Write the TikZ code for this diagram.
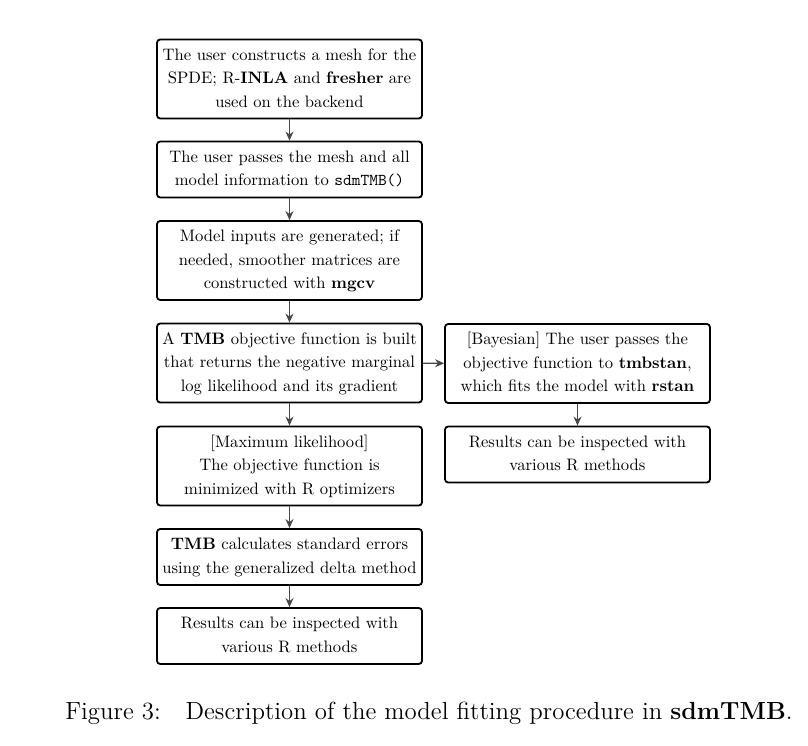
\documentclass[tikz,border=0pt]{standalone}
\usetikzlibrary{arrows.meta}
\newcommand\bxt[1]{\scalebox{0.83}{\renewcommand\arraystretch{1.18}\begin{tabular}{@{}c@{}}#1\end{tabular}}}
\begin{document}
\begin{tikzpicture}[x=1pt,y=1pt,
  stepbox/.style={draw=black,line width=0.9pt,rounded corners=1.6pt,
    minimum width=132.5pt,inner xsep=1pt,inner ysep=1pt,align=center,
    minimum height=28pt,font=\normalsize},
  tall/.style={minimum height=39.5pt},
  conn/.style={draw=black!72,line width=0.7pt,-{Stealth[length=4.5pt,width=4pt]}}]
\useasboundingbox (0,0) rectangle (404,372.5);
\node[stepbox,tall] (b1) at (144.75,333) {\bxt{The user constructs a mesh for the\\ SPDE; R-\textbf{INLA} and \textbf{fresher} are\\ used on the backend}};
\node[stepbox] (b2) at (144.75,287.75) {\bxt{The user passes the mesh and all\\ model information to \texttt{sdmTMB()}}};
\node[stepbox,tall] (b3) at (144.75,242.25) {\bxt{Model inputs are generated; if\\ needed, smoother matrices are\\ constructed with \textbf{mgcv}}};
\node[stepbox,tall] (b4) at (144.75,191) {\bxt{A \textbf{TMB} objective function is built\\ that returns the negative marginal\\ log likelihood and its gradient}};
\node[stepbox,tall] (b5) at (144.75,139.5) {\bxt{[Maximum likelihood]\\ The objective function is\\ minimized with R optimizers}};
\node[stepbox] (b6) at (144.75,94) {\bxt{\textbf{TMB} calculates standard errors\\ using the generalized delta method}};
\node[stepbox] (b7) at (144.75,54.5) {\bxt{Results can be inspected with\\ various R methods}};
\node[stepbox,tall] (r1) at (288.75,190.75) {\bxt{[Bayesian] The user passes the\\ objective function to \textbf{tmbstan},\\ which fits the model with \textbf{rstan}}};
\node[stepbox] (r2) at (288.75,145.25) {\bxt{Results can be inspected with\\ various R methods}};
\draw[conn] (b1) -- (b2);
\draw[conn] (b2) -- (b3);
\draw[conn] (b3) -- (b4);
\draw[conn] (b4) -- (b5);
\draw[conn] (b5) -- (b6);
\draw[conn] (b6) -- (b7);
\draw[conn] (b4) -- (r1);
\draw[conn] (r1) -- (r2);
\node[font=\fontsize{12.4}{15}\selectfont,inner sep=0pt] (cap) at (214.5,16) {Figure 3:\quad Description of the model fitting procedure in \textbf{sdmTMB}.};
\end{tikzpicture}
\end{document}
